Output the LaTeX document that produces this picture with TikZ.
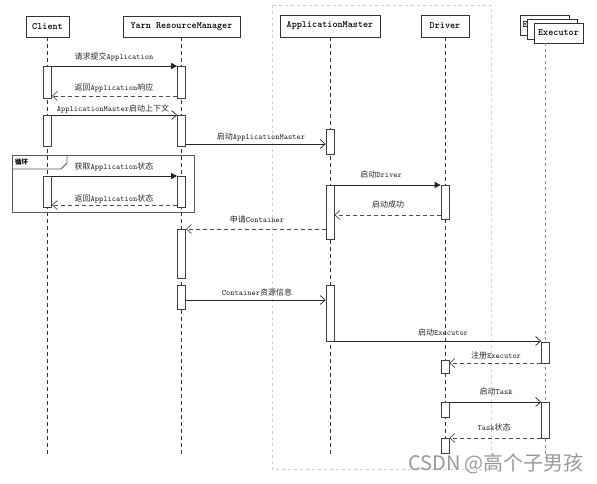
\documentclass[tikz,border=0pt]{standalone}
\usepackage{fontspec}
\newfontfamily\cjk{Noto Sans CJK SC}
\usetikzlibrary{arrows.meta}
\newcommand\zh[1]{{\cjk #1}}
\begin{document}
\begin{tikzpicture}[x=1pt,y=-1pt,
  part/.style={draw=black!80, line width=0.8pt, fill=white, inner sep=0pt, font=\ttfamily\bfseries\fontsize{9.7}{11}\selectfont},
  act/.style={draw=black!75, line width=0.7pt, fill=white, minimum width=8pt, inner sep=0pt},
  life/.style={draw=black!80, line width=0.6pt, dash pattern=on 4pt off 3pt},
  exlife/.style={draw=black!45, line width=1.1pt, dash pattern=on 3pt off 3pt},
  msg/.style={draw=black!85, line width=0.7pt},
  ret/.style={draw=black!70, line width=0.7pt, dash pattern=on 4pt off 3pt},
  filled/.style={-{Triangle[length=6pt,width=6pt]}},
  open/.style={-{Straight Barb[length=5pt,width=9pt]}},
  lbl/.style={font=\ttfamily\fontsize{8}{10}\selectfont, text=black!85, inner sep=0pt},
  frame/.style={draw=black!65, line width=0.8pt},
]
\useasboundingbox (0,0) rectangle (597,484);
% region
\draw[black!18, dashed, line width=0.8pt] (272,5) rectangle (491,469);
% participants
\node[part, minimum width=43pt, minimum height=21pt] (client) at (47.5,26.5) {Client};
\node[part, minimum width=117pt, minimum height=21pt] (rm) at (181.5,26.5) {Yarn ResourceManager};
\node[part, minimum width=100pt, minimum height=22pt] (am) at (330,26) {ApplicationMaster};
\node[part, minimum width=48pt, minimum height=22pt] (drv) at (445,26) {Driver};
\node[part, minimum width=49pt, minimum height=20pt] (exb1) at (544.5,25) {};
\node[part, anchor=west, draw=none, fill=none] (exE) at ([xshift=2.5pt]exb1.west) {E};
\node[part, minimum width=50pt, minimum height=20pt] (exb2) at (552,29) {};
\node[part, minimum width=49pt, minimum height=20pt] (exec) at (558.5,33) {Executor};
% lifelines
\draw[life] (client.south) -- (client.south |- 0,455);
\draw[life] (rm.south) -- (rm.south |- 0,455);
\draw[life] (am.south) -- (am.south |- 0,455);
\draw[life] (drv.south) -- (drv.south |- 0,455);
\draw[exlife] (exec.south -| 545.5,0) -- (545.5,458);
% loop frame
\draw[frame] (12,155) rectangle (194,212);
\draw[frame] (12,169) -- (61,169) -- (67,163) -- (67,155);
\node[font=\cjk\bfseries\fontsize{6.5}{7}\selectfont, inner sep=0pt] (loop) at (21.5,162) {循环};
% activations
\node[act, minimum height=32pt] (ca1) at (47.5,82) {};
\node[act, minimum height=31pt] (ca2) at (47.5,130.5) {};
\node[act, minimum height=31pt] (ca3) at (47.5,191.5) {};
\node[act, minimum height=32pt] (ra1) at (181.5,82) {};
\node[act, minimum height=31pt] (ra2) at (181.5,130.5) {};
\node[act, minimum height=31pt] (ra3) at (181.5,191.5) {};
\node[act, minimum height=49pt] (ra4) at (181.5,253.5) {};
\node[act, minimum height=24pt] (ra5) at (181.5,297) {};
\node[act, minimum height=25pt] (aa1) at (330,141.5) {};
\node[act, minimum height=54pt] (aa2) at (330,212) {};
\node[act, minimum height=56pt] (aa3) at (330,313) {};
\node[act, minimum height=34pt] (da1) at (445,202) {};
\node[act, minimum height=13pt] (da2) at (445,366.5) {};
\node[act, minimum height=15pt] (da3) at (445,409.5) {};
\node[act, minimum height=15pt] (da4) at (445,445.5) {};
\node[act, minimum height=21pt] (ea1) at (545.5,352.5) {};
\node[act, minimum height=36pt] (ea2) at (545.5,420) {};
% messages
\draw[msg,filled] (ca1.east |- 0,66) -- (ra1.west |- 0,66);
\draw[ret,open] (ra1.west |- 0,96) -- (ca1.east |- 0,96);
\draw[msg,open] (ca2.east |- 0,115) -- (ra2.west |- 0,115);
\draw[msg,open] (ra2.east |- 0,144) -- (aa1.west |- 0,144);
\draw[msg,filled] (ca3.east |- 0,176) -- (ra3.west |- 0,176);
\draw[ret,open] (ra3.west |- 0,205) -- (ca3.east |- 0,205);
\draw[ret,open] (aa2.west |- 0,229) -- (ra4.east |- 0,229);
\draw[msg,filled] (aa2.east |- 0,185) -- (da1.west |- 0,185);
\draw[ret,open] (da1.west |- 0,215) -- (aa2.east |- 0,215);
\draw[msg,open] (ra5.east |- 0,300) -- (aa3.west |- 0,300);
\draw[msg,open] (aa3.east |- 0,341) -- (ea1.west |- 0,341);
\draw[ret,open] (ea1.west |- 0,363) -- (da2.east |- 0,363);
\draw[msg,open] (da3.east |- 0,402) -- (ea2.west |- 0,402);
\draw[ret,open] (ea2.west |- 0,438) -- (da4.east |- 0,438);
% labels
\node[lbl] (l1) at (114,57) {\zh{请求提交}Application};
\node[lbl] (l2) at (114,88) {\zh{返回}Application\zh{响应}};
\node[lbl] (l3) at (113,109) {ApplicationMaster\zh{启动上下文}};
\node[lbl] (l4) at (261,137) {\zh{启动}ApplicationMaster};
\node[lbl] (l5) at (114,167) {\zh{获取}Application\zh{状态}};
\node[lbl] (l6) at (114,199) {\zh{返回}Application\zh{状态}};
\node[lbl] (l7) at (257,219) {\zh{申请}Container};
\node[lbl] (l8) at (381,174) {\zh{启动}Driver};
\node[lbl] (l9) at (388,204) {\zh{启动成功}};
\node[lbl] (l10) at (257,292) {Container\zh{资源信息}};
\node[lbl] (l11) at (443,332) {\zh{启动}Executor};
\node[lbl] (l12) at (496,355) {\zh{注册}Executor};
\node[lbl] (l13) at (496,391) {\zh{启动}Task};
\node[lbl] (l14) at (494,427) {Task\zh{状态}};
% watermark
\node[font=\cjk\fontsize{20}{22}\selectfont, text=black!40, inner sep=0pt] (wm) at (496,464) {CSDN @高个子男孩};
\end{tikzpicture}
\end{document}
